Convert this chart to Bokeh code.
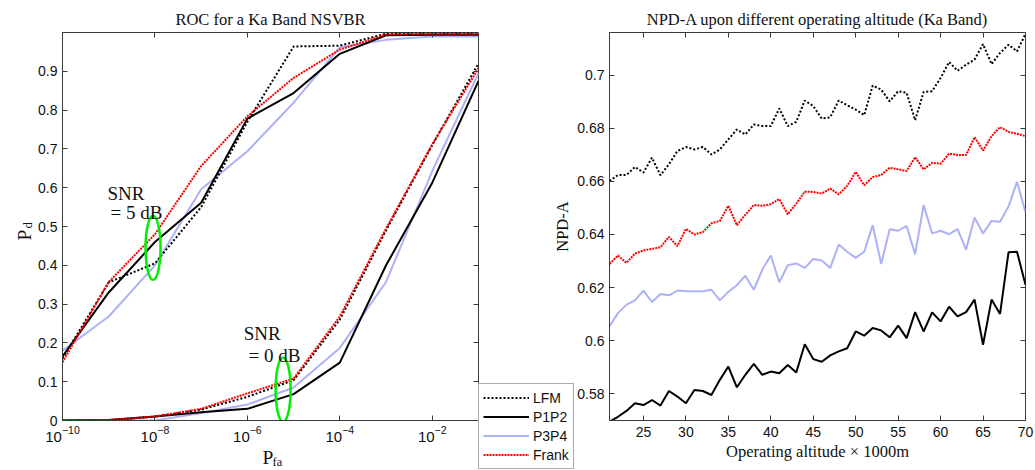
from bokeh.plotting import figure
from bokeh.models import (FixedTicker, LogAxis, LinearAxis, LogTickFormatter, Range1d,
                          CustomJSTickFormatter, Legend, LegendItem, Label, Title)
from bokeh.layouts import row, column
from bokeh.embed import file_html
from bokeh.resources import INLINE

# ---------------- data: ROC (left) ----------------
pfa = [1e-10, 1e-9, 1e-8, 1e-7, 1e-6, 1e-5, 1e-4, 1e-3, 1e-2, 1e-1]
lfm_5db = [0.16, 0.356, 0.405, 0.55, 0.77, 0.964, 0.966, 0.997, 0.998, 0.998]
p1p2_5db = [0.165, 0.33, 0.46, 0.561, 0.778, 0.844, 0.945, 0.993, 0.994, 0.994]
p3p4_5db = [0.18, 0.268, 0.40, 0.596, 0.694, 0.819, 0.962, 0.981, 0.99, 0.99]
frank_5db = [0.15, 0.357, 0.48, 0.656, 0.784, 0.883, 0.956, 0.995, 0.997, 0.997]
lfm_0db = [0.0, 0.001, 0.01, 0.028, 0.061, 0.104, 0.26, 0.49, 0.71, 0.92]
p1p2_0db = [0.0, 0.001, 0.01, 0.021, 0.03, 0.068, 0.149, 0.40, 0.613, 0.875]
p3p4_0db = [0.0, 0.0, 0.0, 0.019, 0.041, 0.085, 0.187, 0.357, 0.643, 0.895]
frank_0db = [0.0, 0.001, 0.01, 0.03, 0.07, 0.108, 0.268, 0.495, 0.712, 0.908]
roc_xticks = [1e-10, 1e-8, 1e-6, 1e-4, 1e-2]
roc_yticks = [0, 0.1, 0.2, 0.3, 0.4, 0.5, 0.6, 0.7, 0.8, 0.9]

# ---------------- data: NPD-A (right) ----------------
altitude = list(range(21, 71))
npd_lfm = [0.6601, 0.6624, 0.6624, 0.6654, 0.6633, 0.6689, 0.6623, 0.6664, 0.6714, 0.6729,
           0.6720, 0.6729, 0.6701, 0.6720, 0.6758, 0.6795, 0.6776, 0.6814, 0.6808, 0.6808,
           0.6874, 0.6808, 0.6824, 0.6904, 0.6883, 0.6836, 0.6841, 0.6904, 0.6886, 0.6870,
           0.6849, 0.6960, 0.6945, 0.6901, 0.6939, 0.6933, 0.6830, 0.6936, 0.6939, 0.6989,
           0.7049, 0.7016, 0.7039, 0.7058, 0.7116, 0.7041, 0.7083, 0.7114, 0.7089, 0.7155]
npd_frank = [0.6289, 0.6321, 0.6293, 0.6328, 0.6340, 0.6346, 0.6352, 0.6391, 0.6356, 0.6421,
             0.6400, 0.6409, 0.6442, 0.6451, 0.6508, 0.6435, 0.6474, 0.6511, 0.6508, 0.6514,
             0.6533, 0.6476, 0.6516, 0.6561, 0.6560, 0.6554, 0.6573, 0.6551, 0.6583, 0.6635,
             0.6585, 0.6616, 0.6624, 0.6651, 0.6645, 0.6639, 0.6691, 0.6645, 0.6670, 0.6666,
             0.6704, 0.6699, 0.6699, 0.6766, 0.6716, 0.6770, 0.6804, 0.6786, 0.6779, 0.6770]
npd_p3p4 = [0.6054, 0.6104, 0.6136, 0.6152, 0.6189, 0.6146, 0.6176, 0.6171, 0.6189, 0.6186,
            0.6186, 0.6186, 0.6192, 0.6152, 0.6184, 0.6209, 0.6245, 0.6192, 0.6268, 0.6321,
            0.6220, 0.6284, 0.6291, 0.6274, 0.6308, 0.6302, 0.6274, 0.6362, 0.6335, 0.6312,
            0.6335, 0.6435, 0.6289, 0.6420, 0.6414, 0.6432, 0.6325, 0.6511, 0.6404, 0.6414,
            0.6401, 0.6420, 0.6343, 0.6464, 0.6404, 0.6451, 0.6448, 0.6505, 0.6598, 0.6483]
npd_p1p2 = [0.5696, 0.5714, 0.5736, 0.5765, 0.5758, 0.5777, 0.5756, 0.5811, 0.5790, 0.5765,
            0.5815, 0.5811, 0.5796, 0.5853, 0.5903, 0.5825, 0.5872, 0.5913, 0.5872, 0.5884,
            0.5878, 0.5909, 0.5881, 0.5987, 0.5931, 0.5921, 0.5945, 0.5960, 0.5972, 0.6035,
            0.6019, 0.6048, 0.6039, 0.6013, 0.6057, 0.6010, 0.6108, 0.6035, 0.6107, 0.6073,
            0.6128, 0.6092, 0.6108, 0.6155, 0.5985, 0.6155, 0.6101, 0.6333, 0.6335, 0.6211]
npd_xticks = [25, 30, 35, 40, 45, 50, 55, 60, 65, 70]
npd_yticks = [0.58, 0.60, 0.62, 0.64, 0.66, 0.68, 0.70]

series_names = ["LFM", "P1P2", "P3P4", "Frank"]

# annotation positions (data coords of left plot)
ellipse_x = [9.1e-9, 5.93e-6]
ellipse_y = [0.445, 0.0797]

SERIF = "Liberation Serif"
SANS = "Liberation Sans"
AX = "#3a3a3a"
TXT = "#111111"
W, H = 1035, 470

STY = {
    "LFM": dict(line_color="black", line_width=2, line_dash="2 2"),
    "P1P2": dict(line_color="black", line_width=2),
    "P3P4": dict(line_color="#adb2f5", line_width=2),
    "Frank": dict(line_color="#ff0000", line_width=2, line_dash="2 1"),
}


def num_fmt():
    return CustomJSTickFormatter(code="return parseFloat(tick.toFixed(4)).toString();")


def style_axis(ax):
    ax.major_tick_in = 5
    ax.major_tick_out = 0
    ax.minor_tick_line_color = None
    ax.axis_line_color = AX
    ax.major_tick_line_color = AX
    ax.major_label_text_font = SANS
    ax.major_label_text_font_size = "14px"
    ax.major_label_text_color = TXT
    ax.major_label_standoff = 5
    ax.axis_label_text_font = SERIF
    ax.axis_label_text_font_style = "normal"
    ax.axis_label_text_font_size = "16.5px"
    ax.axis_label_text_color = TXT


def mirror(ax):
    ax.major_tick_in = 5
    ax.major_tick_out = 0
    ax.minor_tick_line_color = None
    ax.axis_line_color = None
    ax.major_tick_line_color = AX
    ax.formatter = CustomJSTickFormatter(code="return '';")
    ax.major_label_text_font_size = "1px"
    ax.major_label_standoff = 0


def add_title(p, text):
    t = Title(text=text, align="center", text_font=SERIF, text_font_style="normal",
              text_font_size="16.5px", text_color=TXT, standoff=8)
    p.add_layout(t, "above")


# ---------------- left figure ----------------
p1 = figure(width=480, height=H, x_axis_type="log", x_range=(1e-10, 1e-1), y_range=(0, 1),
            output_backend="svg", toolbar_location=None, title=None,
            min_border_left=62, min_border_right=2, min_border_top=32, min_border_bottom=50)
p1.grid.visible = False
p1.outline_line_color = AX
p1.xaxis.ticker = FixedTicker(ticks=roc_xticks)
p1.xaxis.formatter = LogTickFormatter()
p1.yaxis.ticker = FixedTicker(ticks=roc_yticks)
p1.yaxis.formatter = num_fmt()
for ax in p1.xaxis + p1.yaxis:
    style_axis(ax)
p1.xaxis.major_label_text_font_size = "15px"
top1 = LogAxis(ticker=FixedTicker(ticks=roc_xticks))
mirror(top1)
p1.add_layout(top1, "above")
right1 = LinearAxis(ticker=FixedTicker(ticks=roc_yticks))
mirror(right1)
p1.add_layout(right1, "right")
add_title(p1, "ROC for a Ka Band NSVBR")

roc5 = {"LFM": lfm_5db, "P1P2": p1p2_5db, "P3P4": p3p4_5db, "Frank": frank_5db}
roc0 = {"LFM": lfm_0db, "P1P2": p1p2_0db, "P3P4": p3p4_0db, "Frank": frank_0db}
for name in ["P3P4", "P1P2", "LFM", "Frank"]:
    p1.line(pfa, roc5[name], **STY[name])
    p1.line(pfa, roc0[name], **STY[name])

p1.ellipse(x=ellipse_x, y=ellipse_y, width=15, height=64, width_units="screen",
           height_units="screen", fill_color=None, line_color="#00ee00", line_width=2.5)

for txt, x, y in [("SNR", 9.4e-10, 0.586), ("= 5 dB", 1.09e-9, 0.535),
                  ("SNR", 8.3e-7, 0.224), ("= 0 dB", 1.06e-6, 0.168)]:
    p1.add_layout(Label(x=x, y=y, text=txt, text_font=SERIF, text_font_size="19px",
                        text_color=TXT, text_baseline="alphabetic"))

# ---------------- right figure ----------------
p2 = figure(width=555, height=H, x_range=(21, 70), y_range=(0.57, 0.716),
            output_backend="svg", toolbar_location=None, title=None,
            min_border_left=129, min_border_right=10, min_border_top=32, min_border_bottom=50)
p2.grid.visible = False
p2.outline_line_color = AX
p2.xaxis.ticker = FixedTicker(ticks=npd_xticks)
p2.yaxis.ticker = FixedTicker(ticks=npd_yticks)
p2.xaxis.formatter = num_fmt()
p2.yaxis.formatter = num_fmt()
for ax in p2.xaxis + p2.yaxis:
    style_axis(ax)
p2.xaxis.axis_label = "Operating altitude \u00d7 1000m"
p2.yaxis.axis_label = "NPD-A"
p2.xaxis.major_label_standoff = 6
p2.xaxis.axis_label_standoff = 2
p2.yaxis.axis_label_standoff = 2
top2 = LinearAxis(ticker=FixedTicker(ticks=npd_xticks))
mirror(top2)
p2.add_layout(top2, "above")
right2 = LinearAxis(ticker=FixedTicker(ticks=npd_yticks))
mirror(right2)
p2.add_layout(right2, "right")
add_title(p2, "NPD-A upon different operating altitude (Ka Band)")

npd = {"LFM": npd_lfm, "P1P2": npd_p1p2, "P3P4": npd_p3p4, "Frank": npd_frank}
for name in series_names:
    p2.line(altitude, npd[name], **STY[name])

# ---------------- transparent overlay (page-pixel coordinates) ----------------
ov = figure(width=W, height=H, x_range=Range1d(0, W), y_range=Range1d(H, 0),
            output_backend="svg", toolbar_location=None, title=None,
            x_axis_location=None, y_axis_location=None,
            min_border_left=0, min_border_right=0, min_border_top=0, min_border_bottom=0,
            outline_line_color=None, background_fill_color=None, border_fill_color=None,
            margin=(-H, 0, 0, 0))
ov.grid.visible = False

# legend sample renderers (hidden; only their styles feed the legend)
ov_rends = {}
for name in series_names:
    ov_rends[name] = ov.line(altitude, npd[name], visible=False, **STY[name])

legend = Legend(items=[LegendItem(label=n, renderers=[ov_rends[n]]) for n in series_names],
                location=(478, 1), orientation="vertical",
                label_text_font=SANS, label_text_font_size="14px", label_text_color=TXT,
                border_line_color="#555555", border_line_width=1, background_fill_color="white",
                background_fill_alpha=1.0, padding=4, spacing=0, margin=0,
                glyph_width=46, glyph_height=19, label_height=19, label_standoff=4,
                inactive_fill_alpha=0.0)
ov.add_layout(legend)

# axis labels with subscripts
ov.add_layout(Label(x=262, y=457, text="P", text_font=SERIF, text_font_size="19.5px",
                    text_color=TXT, text_baseline="alphabetic"))
ov.add_layout(Label(x=272, y=461, text="fa", text_font=SERIF, text_font_size="12.5px",
                    text_color=TXT, text_baseline="alphabetic"))
ov.add_layout(Label(x=24, y=240, text="P", angle=90, angle_units="deg", text_font=SERIF,
                    text_font_size="19.5px", text_color=TXT, text_baseline="alphabetic"))
ov.add_layout(Label(x=27, y=228, text="d", angle=90, angle_units="deg", text_font=SERIF,
                    text_font_size="13px", text_color=TXT, text_baseline="alphabetic"))

layout = column(row(p1, p2), ov)
open("out.html", "w").write(file_html(layout, INLINE))
